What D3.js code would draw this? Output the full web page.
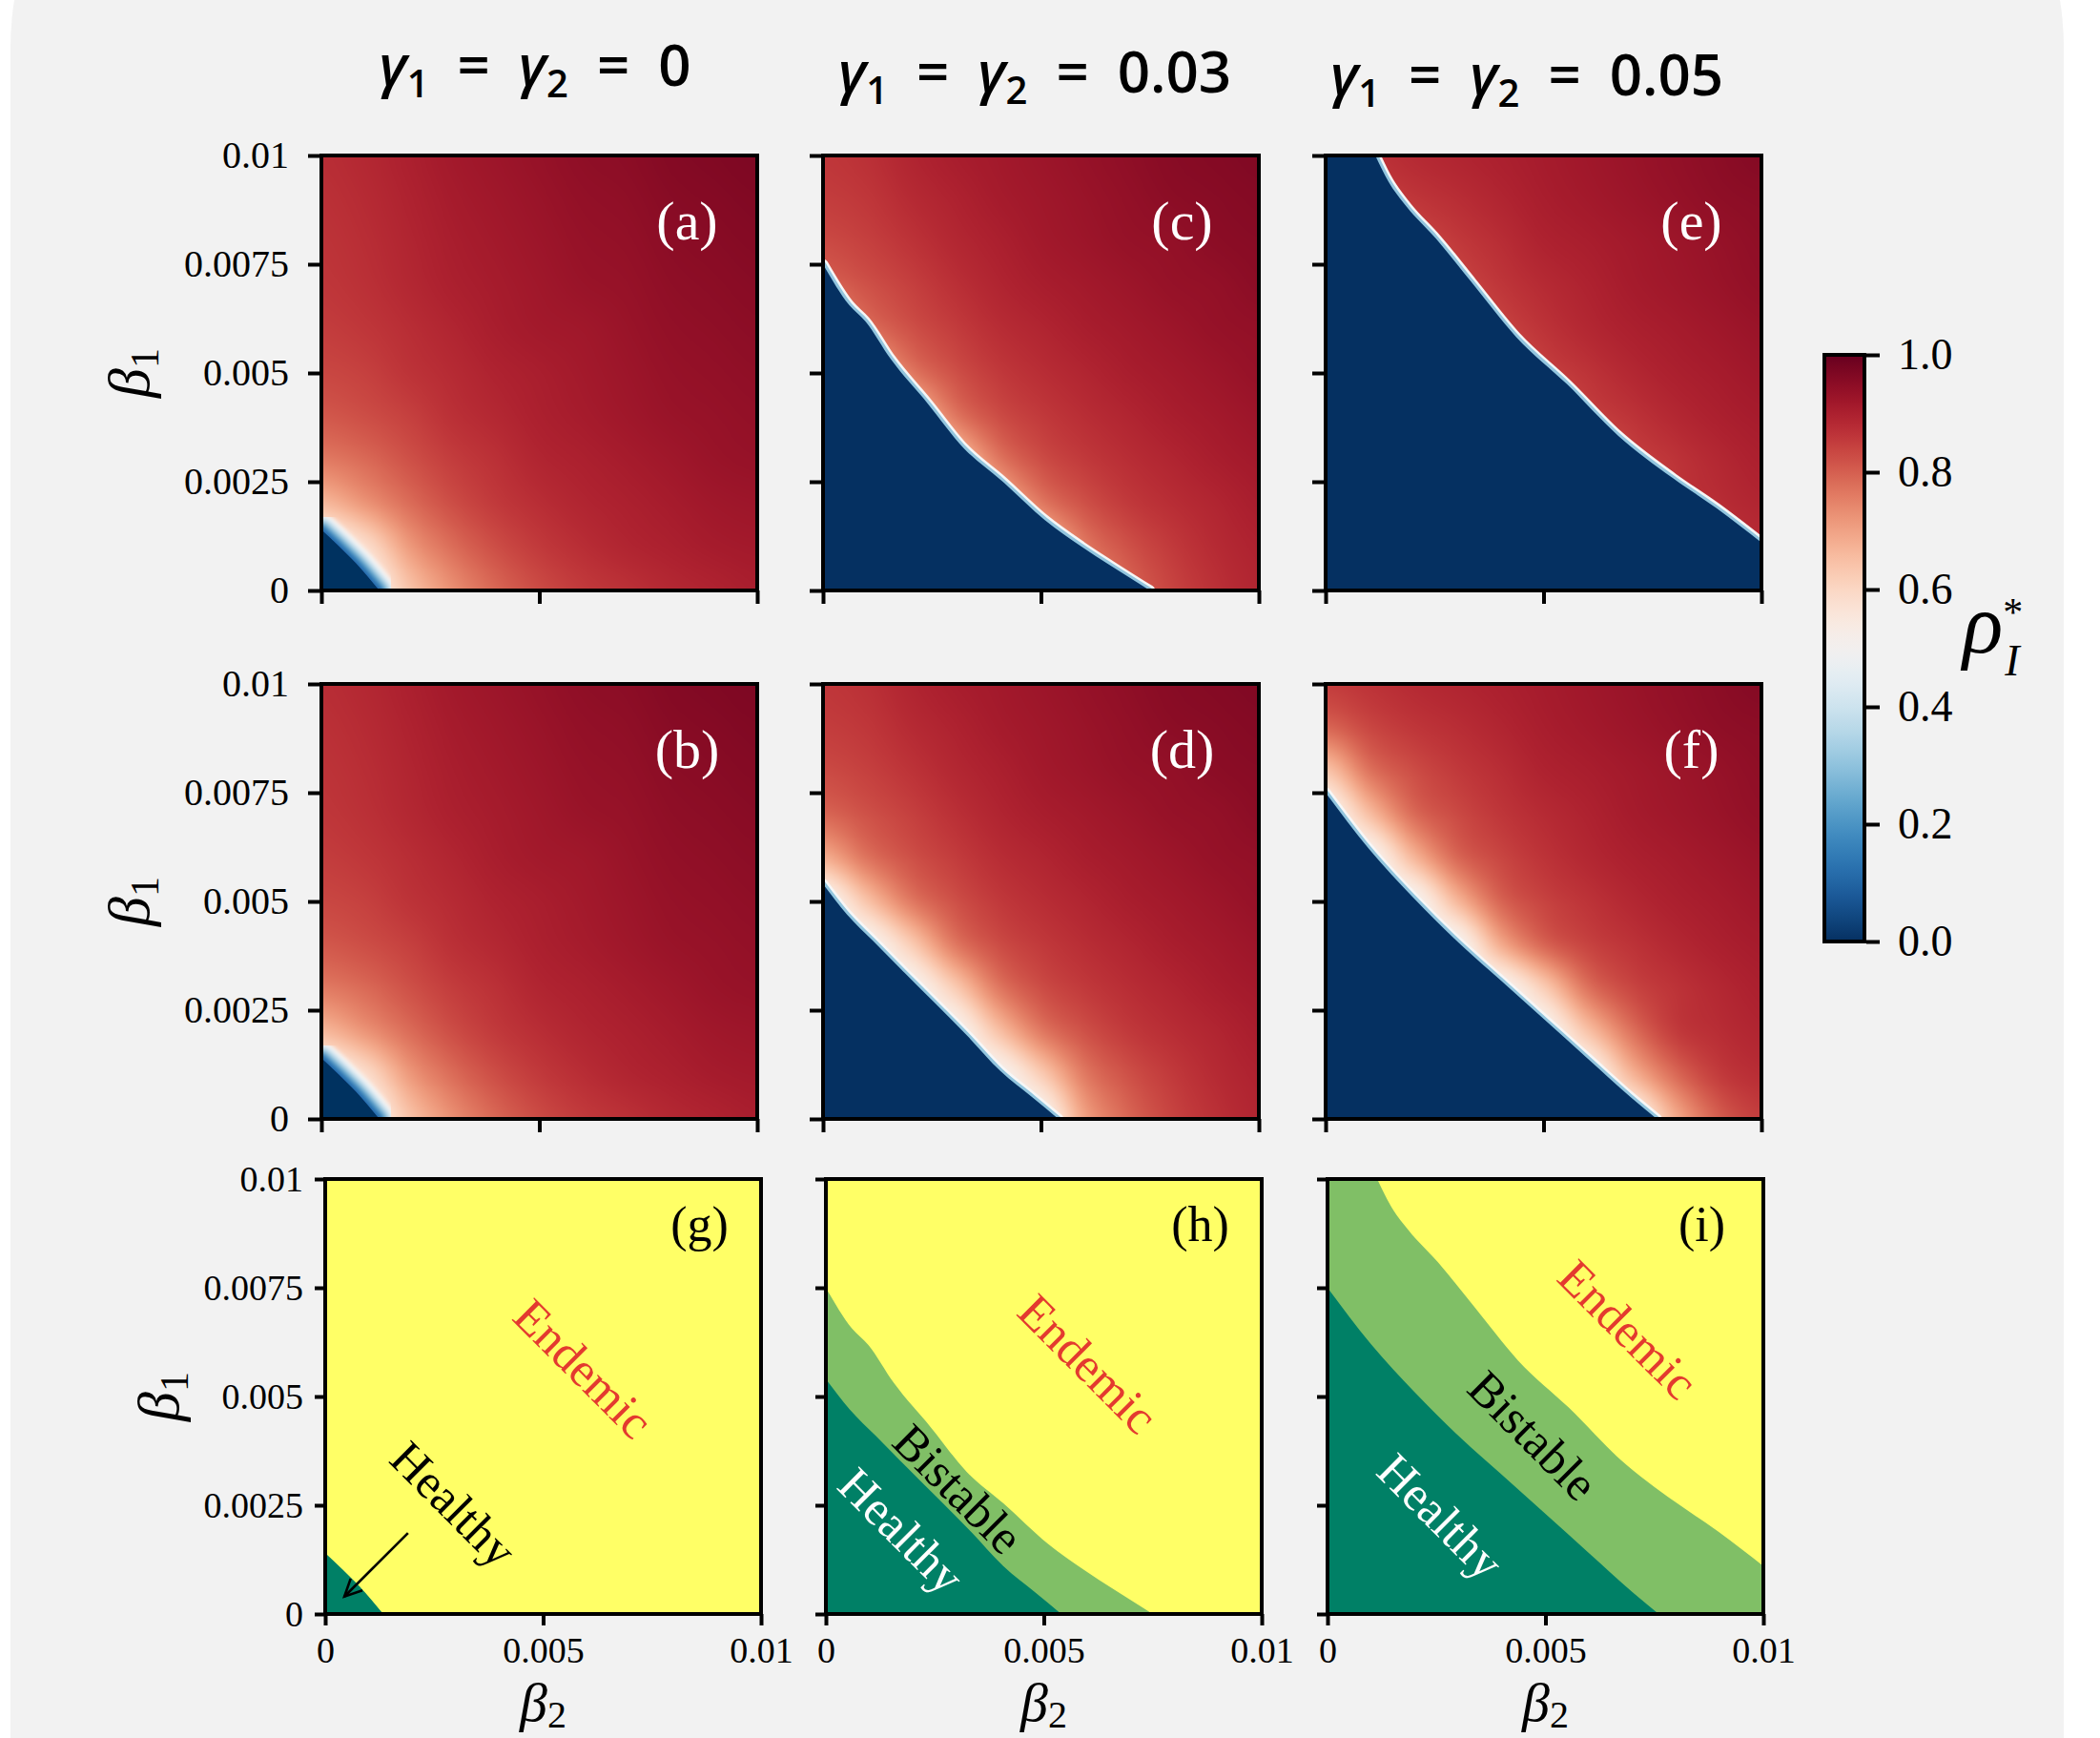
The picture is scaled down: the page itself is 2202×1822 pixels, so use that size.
<!DOCTYPE html>
<html><head><meta charset="utf-8">
<script src="https://cdn.jsdelivr.net/npm/d3@7"></script>
<style>body{margin:0;background:#fff;} svg{display:block;}</style>
</head><body>
<svg id="chart" width="2202" height="1822"></svg>
<script>
// ================= DATA =================
const gammaLabels = ["0", "0.03", "0.05"];
const panelLetters = [["a", "c", "e"], ["b", "d", "f"], ["g", "h", "i"]];
const betaTicksY = [0, 0.0025, 0.005, 0.0075, 0.01];
const betaTickLabelsY = ["0", "0.0025", "0.005", "0.0075", "0.01"];
const betaTicksX = [0, 0.005, 0.01];
const betaTickLabelsX = ["0", "0.005", "0.01"];
const colorbarTicks = [0, 0.2, 0.4, 0.6, 0.8, 1.0];
const colorbarTickLabels = ["0.0", "0.2", "0.4", "0.6", "0.8", "1.0"];
const gridStep = 0.001; // field samples every 0.001 in beta2 (columns) and beta1 (rows)

// Endemic-branch rho_I*, rows: beta1 = 0..0.01, cols: beta2 = 0..0.01 (null: healthy only)
const rhoGamma0 = [
  [null, null, 0.64, 0.73, 0.79, 0.83, 0.855, 0.87, 0.885, 0.895, 0.905],
  [null, 0.58, 0.71, 0.78, 0.825, 0.855, 0.875, 0.89, 0.90, 0.91, 0.915],
  [0.66, 0.72, 0.78, 0.825, 0.855, 0.875, 0.89, 0.90, 0.91, 0.92, 0.925],
  [0.76, 0.785, 0.82, 0.85, 0.87, 0.89, 0.90, 0.91, 0.92, 0.93, 0.935],
  [0.81, 0.825, 0.845, 0.87, 0.885, 0.90, 0.91, 0.92, 0.93, 0.935, 0.94],
  [0.835, 0.845, 0.865, 0.88, 0.895, 0.905, 0.915, 0.925, 0.935, 0.94, 0.945],
  [0.85, 0.86, 0.875, 0.89, 0.905, 0.915, 0.92, 0.93, 0.94, 0.945, 0.95],
  [0.86, 0.87, 0.885, 0.90, 0.91, 0.92, 0.93, 0.935, 0.945, 0.95, 0.955],
  [0.865, 0.875, 0.89, 0.905, 0.915, 0.925, 0.935, 0.94, 0.95, 0.955, 0.96],
  [0.87, 0.88, 0.895, 0.91, 0.92, 0.93, 0.94, 0.945, 0.955, 0.96, 0.965],
  [0.875, 0.885, 0.90, 0.915, 0.925, 0.935, 0.945, 0.95, 0.96, 0.965, 0.97]
];
const rhoGamma003 = [
  [null, null, null, null, null, null, 0.70, 0.79, 0.84, 0.87, 0.89],
  [null, null, null, null, null, 0.62, 0.76, 0.82, 0.855, 0.88, 0.895],
  [null, null, null, null, 0.64, 0.76, 0.82, 0.855, 0.875, 0.89, 0.905],
  [null, null, null, 0.62, 0.76, 0.825, 0.855, 0.875, 0.89, 0.905, 0.915],
  [null, null, 0.62, 0.76, 0.825, 0.855, 0.875, 0.89, 0.905, 0.915, 0.925],
  [null, 0.64, 0.76, 0.82, 0.855, 0.875, 0.89, 0.905, 0.915, 0.925, 0.935],
  [0.68, 0.77, 0.82, 0.85, 0.875, 0.89, 0.905, 0.915, 0.925, 0.935, 0.94],
  [0.79, 0.82, 0.845, 0.87, 0.89, 0.905, 0.915, 0.925, 0.935, 0.94, 0.95],
  [0.83, 0.845, 0.865, 0.885, 0.90, 0.915, 0.925, 0.935, 0.94, 0.95, 0.955],
  [0.85, 0.86, 0.88, 0.895, 0.91, 0.92, 0.93, 0.94, 0.95, 0.955, 0.96],
  [0.86, 0.87, 0.89, 0.905, 0.915, 0.925, 0.935, 0.945, 0.955, 0.96, 0.965]
];
const rhoGamma005 = [
  [null, null, null, null, null, null, null, null, 0.68, 0.80, 0.85],
  [null, null, null, null, null, null, null, 0.66, 0.78, 0.85, 0.875],
  [null, null, null, null, null, null, 0.64, 0.77, 0.85, 0.875, 0.89],
  [null, null, null, null, null, 0.62, 0.77, 0.835, 0.865, 0.885, 0.90],
  [null, null, null, null, 0.68, 0.79, 0.84, 0.865, 0.885, 0.90, 0.91],
  [null, null, null, 0.66, 0.79, 0.84, 0.865, 0.885, 0.90, 0.91, 0.92],
  [null, null, 0.66, 0.785, 0.835, 0.865, 0.885, 0.90, 0.91, 0.92, 0.93],
  [null, 0.65, 0.78, 0.83, 0.86, 0.88, 0.895, 0.91, 0.92, 0.93, 0.94],
  [0.64, 0.77, 0.825, 0.855, 0.875, 0.895, 0.905, 0.915, 0.925, 0.935, 0.945],
  [0.79, 0.835, 0.86, 0.875, 0.89, 0.905, 0.915, 0.925, 0.935, 0.945, 0.95],
  [0.85, 0.865, 0.88, 0.89, 0.90, 0.91, 0.92, 0.93, 0.94, 0.95, 0.96]
];
const edgeValues = [0.5, 0.5, 0.5]; // rho_I* right at the healthy boundary

// Boundaries as [beta2, beta1]
const healthyBoundary0 = [[0, 0.0014], [0.0004, 0.00102], [0.0008, 0.00062], [0.00133, 0]];
const endemicBoundary0 = [[0, 0.0014], [0.0004, 0.00102], [0.0008, 0.00062], [0.00133, 0]];
const healthyBoundary003 = [[0, 0.0054], [0.00055, 0.0047], [0.00114, 0.0041], [0.00187, 0.00336], [0.0026, 0.00263], [0.00333, 0.00189], [0.00407, 0.0011], [0.0048, 0.0005], [0.0054, 0]];
const endemicBoundary003 = [[0, 0.0075], [0.0006, 0.00656], [0.00097, 0.00619], [0.00156, 0.00531], [0.0024, 0.0043], [0.00323, 0.00327], [0.00408, 0.00254], [0.00509, 0.00162], [0.00593, 0.00101], [0.0066, 0.00057], [0.0075, 0]];
const healthyBoundary005 = [[0, 0.0075], [0.001, 0.0062], [0.002, 0.0051], [0.003, 0.0041], [0.004, 0.0032], [0.005, 0.0023], [0.006, 0.0014], [0.007, 0.0005], [0.0076, 0]];
const endemicBoundary005 = [[0.00114, 0.01], [0.00144, 0.0094], [0.00186, 0.00882], [0.00253, 0.00809], [0.00336, 0.00707], [0.00437, 0.00583], [0.00554, 0.00474], [0.00671, 0.00356], [0.00797, 0.00258], [0.00897, 0.00189], [0.01, 0.0011]];

// Phase-diagram annotations [name, beta2, beta1]
const annotG = [["Endemic", 0.00592, 0.00564], ["Healthy", 0.00294, 0.00252]];
const annotH = [["Endemic", 0.00601, 0.00575], ["Bistable", 0.00303, 0.00287], ["Healthy", 0.00173, 0.00191]];
const annotI = [["Endemic", 0.00689, 0.00654], ["Bistable", 0.00471, 0.0041], ["Healthy", 0.00259, 0.00224]];
const arrowG = [[0.0019, 0.00186], [0.00044, 0.0004]];

// ================= LAYOUT / STYLE =================
const W = 2202, H = 1822;
const colX = [[337, 863, 1390], [337, 863, 1390], [341, 866, 1392]];
const rowY = [163, 717, 1236];
const PW = 457, PH = 456;
const serif = "'Liberation Serif', 'Times New Roman', serif";
const fields = [rhoGamma0, rhoGamma003, rhoGamma005];
const healthyCurves = [healthyBoundary0, healthyBoundary003, healthyBoundary005];
const endemicCurves = [endemicBoundary0, endemicBoundary003, endemicBoundary005];
const annots = [annotG, annotH, annotI];
const colorOf = v => d3.interpolateRdBu(1 - v);
const phaseColors = {Healthy: "#008066", Bistable: "#80bf66", Endemic: "#ffff66"};

const svg = d3.select("#chart");
const defs = svg.append("defs");
svg.append("rect").attr("width", W).attr("height", H).attr("fill", "#ffffff");
svg.append("rect").attr("x", 11).attr("y", -264).attr("width", 2153).attr("height", 2500)
  .attr("rx", 314).attr("fill", "#f2f2f2");

const blurWide = defs.append("filter").attr("id", "blurWide").attr("x", "-20%").attr("y", "-20%").attr("width", "140%").attr("height", "140%");
blurWide.append("feGaussianBlur").attr("stdDeviation", 2.2);
const blurThin = defs.append("filter").attr("id", "blurThin").attr("x", "-20%").attr("y", "-20%").attr("width", "140%").attr("height", "140%");
blurThin.append("feGaussianBlur").attr("stdDeviation", 0.7);

const lut = d3.range(1001).map(k => d3.rgb(colorOf(k / 1000)));

function cr(p0, p1, p2, p3, t) {
  return 0.5 * ((2 * p1) + (-p0 + p2) * t + (2 * p0 - 5 * p1 + 4 * p2 - p3) * t * t + (-p0 + 3 * p1 - 3 * p2 + p3) * t * t * t);
}
function fieldAt(grid, edge, b2, b1) {
  const n = grid.length - 1;
  const cl = (v, a, b) => Math.max(a, Math.min(b, v));
  const fx = cl(b2 / gridStep, 0, n), fy = cl(b1 / gridStep, 0, n);
  const j = Math.min(n - 1, Math.floor(fx)), i = Math.min(n - 1, Math.floor(fy));
  const tx = fx - j, ty = fy - i;
  const g = (ii, jj) => { const v = grid[cl(ii, 0, n)][cl(jj, 0, n)]; return v == null ? edge : v; };
  const r = [-1, 0, 1, 2].map(di => cr(g(i + di, j - 1), g(i + di, j), g(i + di, j + 1), g(i + di, j + 2), tx));
  const v = cr(r[0], r[1], r[2], r[3], ty);
  const c = [g(i, j), g(i, j + 1), g(i + 1, j), g(i + 1, j + 1)];
  return cl(v, Math.min(...c), Math.max(...c));
}

function regionPath(x, y, curve) {
  const line = d3.line().x(d => x(d[0])).y(d => y(d[1])).curve(d3.curveMonotoneX);
  const first = curve[0], last = curve[curve.length - 1];
  return `M${x(0)},${y(0)}L${x(0)},${y(first[1])}L${x(first[0])},${y(first[1])}` +
    line(curve).replace(/^M/, "L") + `L${x(last[0])},${y(0)}Z`;
}
function curvePath(x, y, curve) {
  return d3.line().x(d => x(d[0])).y(d => y(d[1])).curve(d3.curveMonotoneX)(curve);
}

// halo around the healthy region: outer (white) to inner (blue)
const haloStyles = [
  {bands: [[34, "#f7f7f7"], [27, "#d1e5f0"], [20, "#92c5de"], [13, "#4393c3"], [6, "#2166ac"]], filter: "url(#blurWide)"},
  {bands: [[11, "#f7f7f7"], [6, "#92c5de"]], filter: "url(#blurThin)"},
  {bands: [[11, "#f7f7f7"], [6, "#92c5de"]], filter: "url(#blurThin)"}
];

for (let row = 0; row < 3; row++) {
  for (let col = 0; col < 3; col++) {
    const x0 = colX[row][col], y0 = rowY[row];
    const x = d3.scaleLinear().domain([0, 0.01]).range([x0, x0 + PW]);
    const y = d3.scaleLinear().domain([0, 0.01]).range([y0 + PH, y0]);
    const id = `clip-${row}-${col}`;
    defs.append("clipPath").attr("id", id).append("rect")
      .attr("x", x0).attr("y", y0).attr("width", PW).attr("height", PH);
    const g = svg.append("g").attr("clip-path", `url(#${id})`);

    if (row < 2) {
      const canvas = document.createElement("canvas");
      canvas.width = PW; canvas.height = PH;
      const ctx = canvas.getContext("2d");
      const img = ctx.createImageData(PW, PH);
      for (let py = 0; py < PH; py++) {
        const b1 = y.invert(y0 + py + 0.5);
        for (let px = 0; px < PW; px++) {
          const b2 = x.invert(x0 + px + 0.5);
          const v = fieldAt(fields[col], edgeValues[col], b2, b1);
          const c = lut[Math.round(Math.max(0, Math.min(1, v)) * 1000)];
          const k = (py * PW + px) * 4;
          img.data[k] = c.r; img.data[k + 1] = c.g; img.data[k + 2] = c.b; img.data[k + 3] = 255;
        }
      }
      ctx.putImageData(img, 0, 0);
      g.append("image").attr("x", x0).attr("y", y0).attr("width", PW).attr("height", PH)
        .attr("preserveAspectRatio", "none").attr("href", canvas.toDataURL());

      const curve = row === 0 ? endemicCurves[col] : healthyCurves[col];
      const cp = curvePath(x, y, curve);
      const halo = g.append("g").attr("filter", haloStyles[col].filter);
      haloStyles[col].bands.forEach(([w, c]) => {
        halo.append("path").attr("d", cp).attr("fill", "none").attr("stroke", c)
          .attr("stroke-width", w).attr("stroke-linejoin", "round").attr("stroke-linecap", "round");
      });
      g.append("path").attr("d", regionPath(x, y, curve)).attr("fill", colorOf(0))
        .attr("filter", col === 0 ? "url(#blurThin)" : null);
    } else {
      g.append("rect").attr("x", x0).attr("y", y0).attr("width", PW).attr("height", PH)
        .attr("fill", phaseColors.Endemic);
      g.append("path").attr("d", regionPath(x, y, endemicCurves[col])).attr("fill", phaseColors.Bistable)
        .attr("filter", "url(#blurThin)");
      g.append("path").attr("d", regionPath(x, y, healthyCurves[col])).attr("fill", phaseColors.Healthy)
        .attr("filter", "url(#blurThin)");
      annots[col].forEach(([name, b2, b1]) => {
        const fill = name === "Endemic" ? "#e33a2f" : (name === "Healthy" && col > 0 ? "#ffffff" : "#000000");
        svg.append("text").attr("transform", `translate(${x(b2)},${y(b1)}) rotate(45)`)
          .attr("text-anchor", "middle").attr("dominant-baseline", "central")
          .attr("font-family", serif).attr("font-size", 51).attr("fill", fill).text(name);
      });
      if (col === 0) {
        const [a, b] = arrowG;
        const ax = x(a[0]), ay = y(a[1]), bx = x(b[0]), by = y(b[1]);
        const ang = Math.atan2(by - ay, bx - ax);
        const hl = 20, hw = 0.45;
        svg.append("line").attr("x1", ax).attr("y1", ay).attr("x2", bx).attr("y2", by)
          .attr("stroke", "#000").attr("stroke-width", 2.6);
        svg.append("path").attr("fill", "none").attr("stroke", "#000").attr("stroke-width", 2.6)
          .attr("d", `M${bx - hl * Math.cos(ang - hw)},${by - hl * Math.sin(ang - hw)}L${bx},${by}L${bx - hl * Math.cos(ang + hw)},${by - hl * Math.sin(ang + hw)}`);
      }
    }

    svg.append("rect").attr("x", x0).attr("y", y0).attr("width", PW).attr("height", PH)
      .attr("fill", "none").attr("stroke", "#000").attr("stroke-width", 4);

    const small = row === 2;
    const yAxis = d3.axisLeft(y).tickValues(betaTicksY).tickSize(small ? 11 : 14).tickPadding(small ? 12 : 20)
      .tickFormat((d, i) => col === 0 ? betaTickLabelsY[i] : "");
    const ya = svg.append("g").attr("transform", `translate(${x0},0)`).call(yAxis);
    const xAxis = d3.axisBottom(x).tickValues(betaTicksX).tickSize(small ? 12 : 14).tickPadding(12)
      .tickFormat((d, i) => small ? betaTickLabelsX[i] : "");
    const xa = svg.append("g").attr("transform", `translate(0,${y0 + PH})`).call(xAxis);
    [ya, xa].forEach(a => {
      a.select(".domain").remove();
      a.selectAll(".tick line").attr("stroke", "#000").attr("stroke-width", 4);
      a.selectAll(".tick text").attr("font-family", serif).attr("font-size", small ? 38 : 40).attr("fill", "#000");
    });

    const lx = x0 + PW / 2 + (row === 2 ? 164 : [155, 148, 155][col]);
    svg.append("text").attr("x", lx).attr("y", y0 + (row === 2 ? 65 : 88))
      .attr("text-anchor", "middle").attr("font-family", serif)
      .attr("font-size", row === 2 ? 52 : 58).attr("fill", row === 2 ? "#000" : "#fff")
      .text(`(${panelLetters[row][col]})`);

    if (col === 0) {
      const lxp = row === 2 ? 187 : 156;
      const t = svg.append("text").attr("transform", `translate(${lxp},${y0 + PH / 2}) rotate(-90)`)
        .attr("text-anchor", "middle").attr("font-family", serif).attr("font-size", 62);
      t.append("tspan").attr("font-style", "italic").text("β");
      t.append("tspan").attr("font-size", 42).attr("dy", 10).text("1");
    }
    if (row === 2) {
      const t = svg.append("text").attr("x", x0 + PW / 2).attr("y", 1804)
        .attr("text-anchor", "middle").attr("font-family", serif).attr("font-size", 58);
      t.append("tspan").attr("font-style", "italic").text("β");
      t.append("tspan").attr("font-size", 40).attr("dy", 7).text("2");
    }
  }
}

// column titles
const titleX = [561, 1085, 1601], titleY = [90, 97, 100];
gammaLabels.forEach((lab, c) => {
  const t = svg.append("text").attr("x", titleX[c]).attr("y", titleY[c]).attr("text-anchor", "middle")
    .attr("font-family", "'Open Sans', 'Noto Sans', sans-serif").attr("font-weight", 600).attr("font-size", 60).attr("fill", "#000");
  t.append("tspan").attr("font-style", "italic").text("γ");
  t.append("tspan").attr("font-size", 40).attr("dy", 12).text("1");
  t.append("tspan").attr("dy", -12).text("\u2002=\u2002");
  t.append("tspan").attr("font-style", "italic").text("γ");
  t.append("tspan").attr("font-size", 40).attr("dy", 12).text("2");
  t.append("tspan").attr("dy", -12).text("\u2002=\u2002" + lab);
});

// colour bar
const cbX = 1913, cbW = 42, cbTop = 372, cbBot = 987;
const cbScale = d3.scaleLinear().domain([0, 1]).range([cbBot, cbTop]);
const grad = defs.append("linearGradient").attr("id", "cbgrad").attr("x1", 0).attr("y1", 1).attr("x2", 0).attr("y2", 0);
d3.range(0, 1.0001, 0.02).forEach(v => grad.append("stop").attr("offset", v).attr("stop-color", colorOf(v)));
svg.append("rect").attr("x", cbX).attr("y", cbTop).attr("width", cbW).attr("height", cbBot - cbTop)
  .attr("fill", "url(#cbgrad)").attr("stroke", "#000").attr("stroke-width", 4);
const cba = svg.append("g").attr("transform", `translate(${cbX + cbW + 2},0)`)
  .call(d3.axisRight(cbScale).tickValues(colorbarTicks).tickSize(14).tickPadding(19)
    .tickFormat((d, i) => colorbarTickLabels[i]));
cba.select(".domain").remove();
cba.selectAll(".tick line").attr("stroke", "#000").attr("stroke-width", 4);
cba.selectAll(".tick text").attr("font-family", serif).attr("font-size", 46).attr("fill", "#000");

// rho_I^* label (one text element with super- and subscript)
const rl = svg.append("text").attr("x", 2058).attr("y", 684).attr("font-family", serif);
rl.append("tspan").attr("font-style", "italic").attr("font-size", 88).text("ρ");
rl.append("tspan").attr("font-size", 42).attr("dy", -28).text("*");
rl.append("tspan").attr("font-style", "italic").attr("font-size", 46).attr("dx", -19).attr("dy", 52).text("I");
</script>
</body></html>
